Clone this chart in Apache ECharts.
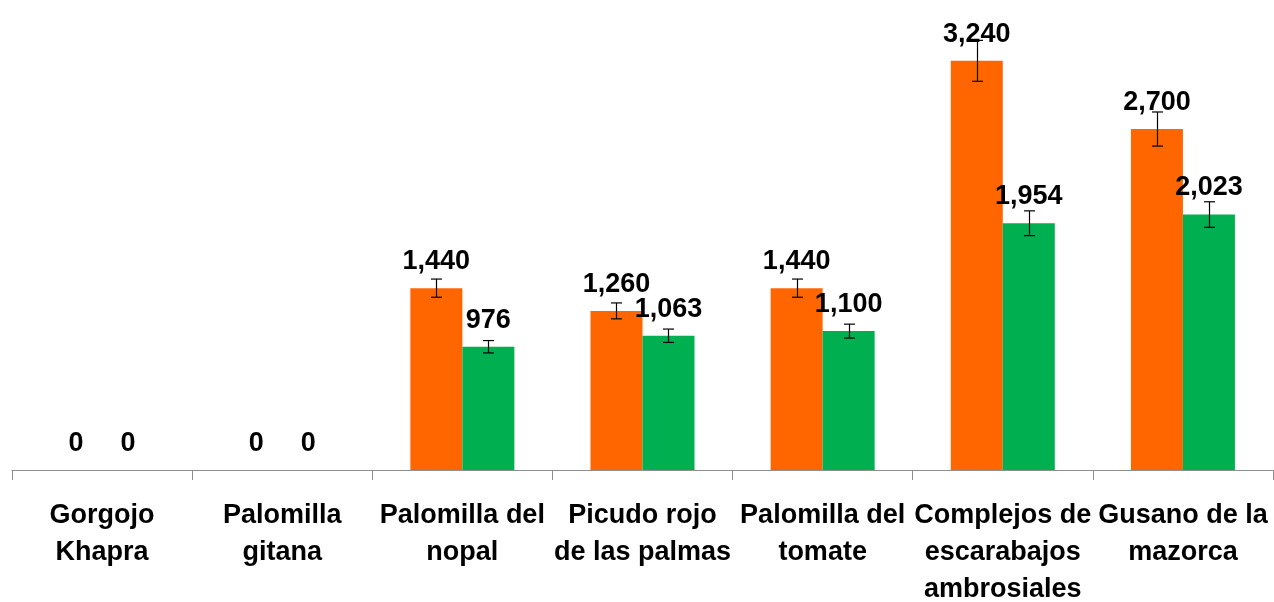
<!DOCTYPE html>
<html>
<head>
<meta charset="utf-8">
<script src="https://cdn.jsdelivr.net/npm/echarts@6/dist/echarts.min.js"></script>
<style>
  html, body { margin: 0; padding: 0; background: #fff; }
  #main { width: 1274px; height: 602px; }
</style>
</head>
<body>
<div id="main"></div>
<script>
// categorias (con los saltos de linea del grafico original)
var categories = [
  'Gorgojo\nKhapra',
  'Palomilla\ngitana',
  'Palomilla del\nnopal',
  'Picudo rojo\nde las palmas',
  'Palomilla del\ntomate',
  'Complejos de\nescarabajos\nambrosiales',
  'Gusano de la\nmazorca'
];
var naranja = [0, 0, 1440, 1260, 1440, 3240, 2700];
var verde = [0, 0, 976, 1063, 1100, 1954, 2023];
// barras de error
var errNaranja = [0, 0, 72, 63, 72, 162, 135];
var errVerde = [0, 0, 49, 53, 55, 98, 101];

var font = 'Liberation Sans';
var myChart = echarts.init(document.getElementById('main'));

function errData(vals, errs) {
  return vals.map(function (v, i) { return [i, v, errs[i]]; });
}

function errRender(offset) {
  return function (params, api) {
    var e = api.value(2);
    if (!e) return;
    var i = api.value(0), v = api.value(1);
    var hi = api.coord([i, v + e]);
    var lo = api.coord([i, v - e]);
    var cx = Math.round(hi[0] + offset) + 0.5;
    var cap = 5.5;
    var st = { stroke: '#000', lineWidth: 1.2 };
    return {
      type: 'group',
      children: [
        { type: 'line', shape: { x1: cx, y1: hi[1], x2: cx, y2: lo[1] }, style: st },
        { type: 'line', shape: { x1: cx - cap, y1: hi[1], x2: cx + cap, y2: hi[1] }, style: st },
        { type: 'line', shape: { x1: cx - cap, y1: lo[1], x2: cx + cap, y2: lo[1] }, style: st }
      ]
    };
  };
}

var labelOpt = {
  show: true,
  position: 'top',
  distance: 13,
  color: '#000',
  fontFamily: font,
  fontWeight: 'bold',
  fontSize: 27,
  formatter: function (p) { return p.value.toLocaleString('en-US'); }
};

var option = {
  animation: false,
  grid: { left: 12, right: 1, top: 28, bottom: 132, outerBoundsMode: 'none', containLabel: false },
  xAxis: {
    type: 'category',
    data: categories,
    axisLine: { lineStyle: { color: '#8f8f8f', width: 1 } },
    axisTick: { show: true, length: 10, lineStyle: { color: '#8f8f8f' } },
    axisLabel: {
      interval: 0,
      margin: 27,
      color: '#000',
      fontFamily: font,
      fontWeight: 'bold',
      fontSize: 27,
      lineHeight: 37
    }
  },
  yAxis: {
    type: 'value',
    min: 0,
    max: 3500,
    show: false,
    splitLine: { show: false }
  },
  series: [
    {
      type: 'bar',
      data: naranja,
      barWidth: 52,
      barGap: '0%',
      itemStyle: { color: '#FF6600' },
      label: labelOpt
    },
    {
      type: 'bar',
      data: verde,
      barWidth: 52,
      itemStyle: { color: '#00B050' },
      label: labelOpt
    },
    {
      type: 'custom',
      renderItem: errRender(-26),
      data: errData(naranja, errNaranja),
      encode: { x: 0, y: 1 },
      z: 3
    },
    {
      type: 'custom',
      renderItem: errRender(26),
      data: errData(verde, errVerde),
      encode: { x: 0, y: 1 },
      z: 3
    }
  ]
};
myChart.setOption(option);
</script>
</body>
</html>
